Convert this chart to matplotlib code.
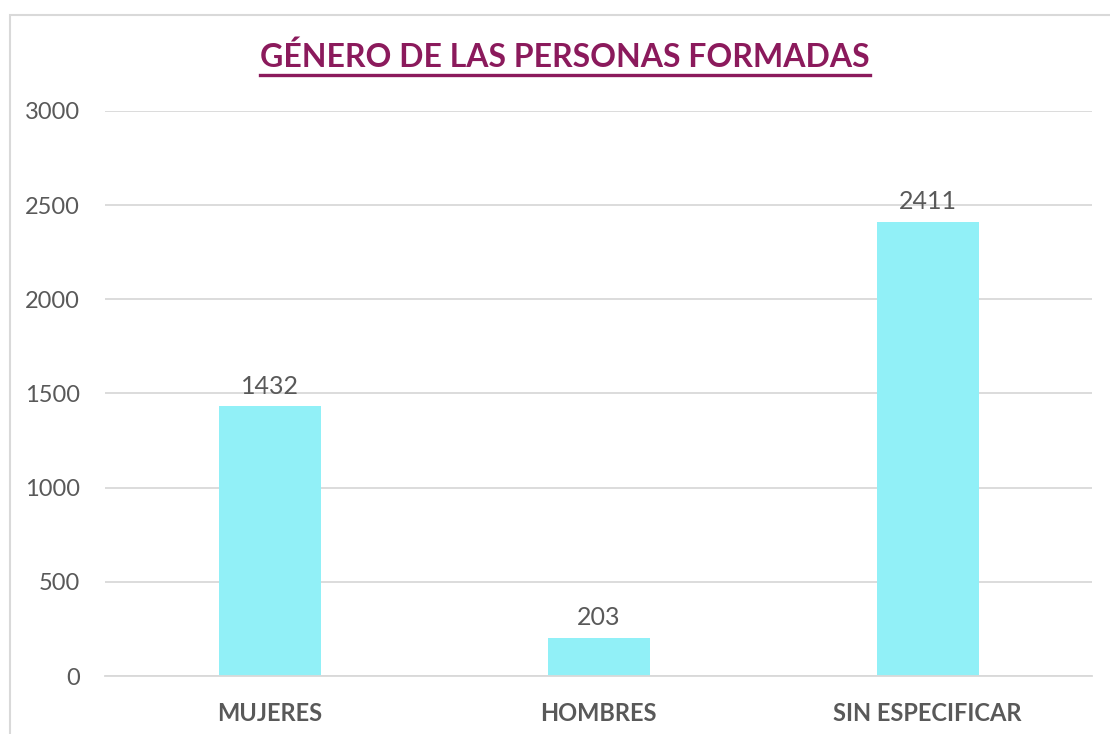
import matplotlib
matplotlib.use("Agg")
import matplotlib.pyplot as plt
from matplotlib.patches import Rectangle
from matplotlib.lines import Line2D

# Data
categorias = ['MUJERES', 'HOMBRES', 'SIN ESPECIFICAR']
valores = [1432, 203, 2411]
y_ticks = [0, 500, 1000, 1500, 2000, 2500, 3000]

plt.rcParams['font.family'] = ['Lato', 'DejaVu Sans']

fig = plt.figure(figsize=(11.1, 7.34), dpi=100)
ax = fig.add_axes([0.0946, 0.079, 0.8892, 0.7698])

# Chart frame
fig.patches.append(Rectangle((10/1110, -0.01), 1.1, 1 - 15/734 + 0.01,
                             transform=fig.transFigure, fill=False,
                             edgecolor='#D9D9D9', linewidth=1.5))

x = range(len(categorias))
bars = ax.bar(x, valores, width=0.31, color='#91F0F7', zorder=2)
for b, v in zip(bars, valores):
    ax.text(b.get_x() + b.get_width() / 2, v + 45, str(v), ha='center', va='bottom',
            fontsize=18, color='#595959')

ax.set_xlim(-0.5, 2.5)
ax.set_ylim(0, 3000)
ax.set_yticks(y_ticks)
ax.set_xticks(list(x))
ax.set_xticklabels(categorias, fontsize=17, fontweight='bold', color='#595959')
ax.tick_params(axis='y', labelsize=17, labelcolor='#595959', length=0, pad=18)
ax.tick_params(axis='x', length=0, pad=19)
ax.grid(axis='y', color='#D9D9D9', linewidth=1.3, zorder=0)
for s in ['top', 'right', 'left']:
    ax.spines[s].set_visible(False)
ax.spines['bottom'].set_color('#D9D9D9')
ax.spines['bottom'].set_linewidth(1.3)

title = fig.text(565/1110, 1 - 57/734, 'GÉNERO DE LAS PERSONAS FORMADAS', ha='center', va='center',
                 fontsize=23, fontweight='bold', color='#8B1A5C')

# Underline the title
fig.canvas.draw()
bb = title.get_window_extent().transformed(fig.transFigure.inverted())
fig.lines.append(Line2D([bb.x0, bb.x1], [bb.y0 - 0.004, bb.y0 - 0.004], transform=fig.transFigure,
                        color='#8B1A5C', linewidth=2.4))

fig.savefig('out.png', dpi=100)
